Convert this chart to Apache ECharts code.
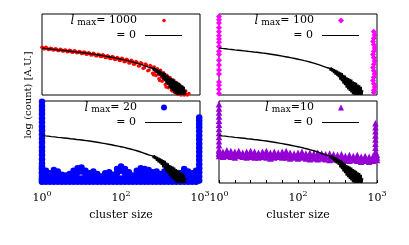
<!DOCTYPE html>
<html><head><meta charset="utf-8">
<script src="https://cdn.jsdelivr.net/npm/echarts@6/dist/echarts.min.js"></script>
<style>html,body{margin:0;padding:0;background:#fff}#c{width:409px;height:245px}</style>
</head><body><div id="c"></div>
<script>
// x positions are in axis units 0..10 (10^0 at 0, 10^2 at 5, 10^3 at 10); y is log(count) in arbitrary units 0..1
const xTickLabels = {0: ['10', '0'], 5: ['10', '2'], 10: ['10', '3']};
const lmaxValues = ['1000', '100', '20', '10'];
const lmaxSeps = ['= ', '= ', '= ', '='];

// l_max = 0 (black line), same reference curve in all panels
const blackX = [0,0.2,0.4,0.6,0.8,1,1.2,1.4,1.6,1.8,2,2.2,2.4,2.6,2.8,3,3.2,3.4,3.6,3.8,4,4.2,4.4,4.6,4.8,5,5.2,5.4,5.6,5.8,6,6.2,6.4,6.6,6.8,
  7.0,7.05,7.1,7.15,7.2,7.25,7.3,7.35,7.4,7.45,7.5,7.55,7.6,7.65,7.7,7.75,7.8,7.85,7.9,7.95,8.0,8.05,8.1,8.15,8.2,8.25,8.3,8.35,8.4,8.45,8.5,8.55,8.6,8.65,8.7,8.75,8.8,8.85,8.9,8.95,9.0,9.05,9.1];
const blackY = [0.58,0.575,0.571,0.566,0.562,0.557,0.553,0.549,0.545,0.54,0.536,0.531,0.527,0.522,0.517,0.512,0.506,0.5,0.494,0.487,0.48,0.473,0.466,0.458,0.45,0.442,0.434,0.424,0.415,0.404,0.393,0.381,0.368,0.354,0.34,
  0.33,0.3,0.34,0.29,0.33,0.27,0.32,0.25,0.31,0.24,0.3,0.22,0.29,0.19,0.28,0.17,0.27,0.14,0.25,0.12,0.24,0.09,0.22,0.07,0.21,0.05,0.2,0.03,0.19,0.01,0.17,0,0.16,0,0.15,0,0.13,0,0.12,0,0.1,0,0.06];

// l_max = 1000 (red)
const redX = [0,0.1,0.25,0.4,0.55,0.7,0.85,1.0,1.15,1.3,1.45,1.6,1.75,1.9,2.05,2.2,2.35,2.5,2.65,2.8,2.95,3.1,3.25,3.4,3.55,3.7,3.85,4.0,4.15,4.3,4.45,4.6,4.75,4.9,5.05,5.2,5.35,5.5,5.65,5.8,5.95,6.1,6.25,6.4,6.55,6.7,6.85,7.0,7.1,7.2,7.3,7.4,7.5,7.6,7.7,7.8,7.9,8.0,8.1,8.2,8.3,8.4,8.5,8.6,8.7,8.8,8.9,9.0,9.1,9.2,9.3,7.05,7.45,7.85,8.25,8.65,9.05,
  0.05,0.18,0.32,0.48,0.62,0.78,0.92,1.08,1.22,1.38,1.52,1.68,1.82,1.98,2.12,2.28,2.42,2.58,2.72,2.88,3.02,3.18,3.32,3.48,3.62,3.78,3.92,4.08,4.22,4.38,4.52,4.68,4.82,4.98,5.12,5.28,5.42,5.58,5.72,5.88,6.02,6.18,6.32,6.48,6.62,6.78,6.92,7.15,7.35,7.55,7.75,7.95,8.15,8.35,8.55,8.75,8.95,9.15];
const redY = [0.59,0.572,0.588,0.562,0.578,0.556,0.572,0.548,0.566,0.542,0.557,0.535,0.552,0.527,0.546,0.521,0.537,0.511,0.531,0.503,0.522,0.494,0.514,0.485,0.504,0.475,0.497,0.462,0.484,0.452,0.474,0.438,0.464,0.425,0.454,0.412,0.442,0.396,0.428,0.38,0.413,0.358,0.398,0.33,0.384,0.3,0.364,0.27,0.345,0.24,0.325,0.2,0.305,0.17,0.275,0.13,0.245,0.09,0.215,0.06,0.185,0.03,0.155,0.01,0.125,0.0,0.09,0.0,0.05,0.0,0.02,0.25,0.18,0.1,0.05,0.03,0.02,
  0.582,0.57,0.578,0.566,0.572,0.558,0.566,0.55,0.559,0.544,0.552,0.538,0.546,0.53,0.54,0.524,0.532,0.515,0.524,0.506,0.516,0.496,0.507,0.486,0.497,0.476,0.488,0.463,0.476,0.452,0.465,0.44,0.455,0.428,0.444,0.414,0.432,0.398,0.418,0.382,0.402,0.362,0.39,0.335,0.37,0.31,0.35,0.28,0.25,0.22,0.19,0.16,0.13,0.1,0.07,0.05,0.03,0.01];

// l_max = 100 (magenta): columns at both ends
const magentaLeftX = [0,0,0,0,0,0,0,0,0,0,0,0,0,0,0,0,0,0,0];
const magentaLeftY = [0.97,0.93,0.89,0.83,0.78,0.73,0.69,0.65,0.6,0.54,0.5,0.43,0.37,0.31,0.26,0.16,0.12,0.07,0.02];
const magentaRightX = [9.8,9.85,9.8,9.75,9.8,9.85,9.8,9.75,9.8,9.85,9.8,9.75,9.8,9.85,9.8,9.75,9.8,9.85,9.8,9.8];
const magentaRightY = [0.78,0.74,0.7,0.66,0.62,0.58,0.54,0.5,0.46,0.42,0.38,0.34,0.3,0.26,0.22,0.18,0.14,0.1,0.06,0.03];

// l_max = 20 (blue)
const blueLeftX = [0,0,0,0,0,0,0,0,0,0,0,0,0,0,0,0,0,0,0,0,0,0];
const blueLeftY = [0.99,0.94,0.89,0.84,0.79,0.74,0.69,0.64,0.59,0.54,0.49,0.44,0.39,0.34,0.29,0.24,0.2,0.16,0.12,0.08,0.05,0.02];
const blueRightX = [9.95,9.95,9.95,9.95,9.95,9.95,9.95,9.95,9.95,9.95,9.95,9.95,9.95,9.95,9.95,9.95,9.95];
const blueRightY = [0.8,0.76,0.72,0.68,0.63,0.58,0.53,0.48,0.43,0.38,0.33,0.28,0.23,0.18,0.13,0.08,0.03];
const blueBandX = [0,0.25,0.5,0.75,1,1.25,1.5,1.75,2,2.25,2.5,2.75,3,3.25,3.5,3.75,4,4.25,4.5,4.75,5,5.25,5.5,5.75,6,6.25,6.5,6.75,7,7.25,7.5,7.75,8,8.25,8.5,8.75,9,9.25,9.5,9.75];
const blueBandLow = [0.015,0.015,0.015,0.015,0.015,0.015,0.015,0.015,0.015,0.015,0.015,0.015,0.015,0.015,0.015,0.015,0.015,0.015,0.015,0.015,0.015,0.015,0.015,0.015,0.015,0.015,0.015,0.015,0.015,0.015,0.015,0.015,0.015,0.015,0.015,0.015,0.015,0.015,0.015,0.015];
const blueBandRow1 = [0.05,0.055,0.045,0.06,0.05,0.045,0.05,0.055,0.05,0.06,0.055,0.05,0.045,0.055,0.05,0.04,0.05,0.055,0.045,0.06,0.055,0.06,0.05,0.045,0.055,0.06,0.05,0.055,0.05,0.055,0.045,0.05,0.06,0.05,0.045,0.05,0.06,0.055,0.05,0.055];
const blueBandMid = [0.13,0.1,0.08,0.11,0.1,0.07,0.07,0.08,0.1,0.13,0.14,0.11,0.08,0.1,0.08,0.06,0.08,0.09,0.07,0.12,0.15,0.12,0.09,0.07,0.1,0.13,0.12,0.11,0.09,0.1,0.08,0.1,0.12,0.08,0.07,0.08,0.12,0.1,0.08,0.1];
const blueBandTop = [0.18,0.15,0.12,0.16,0.14,0.1,0.09,0.11,0.15,0.18,0.19,0.15,0.12,0.14,0.11,0.08,0.12,0.13,0.1,0.17,0.2,0.17,0.13,0.09,0.15,0.18,0.17,0.16,0.13,0.14,0.11,0.14,0.17,0.12,0.09,0.12,0.17,0.14,0.12,0.15];

// l_max = 10 (purple)
const purpleLeftX = [0,0,0,0,0,0,0,0,0,0,0,0,0];
const purpleLeftY = [0.96,0.91,0.86,0.81,0.76,0.71,0.66,0.61,0.56,0.51,0.46,0.41,0.36];
const purpleRightX = [9.9,9.9,9.9,9.9,9.9,9.9,9.9,9.9,9.9,9.9];
const purpleRightY = [0.73,0.68,0.63,0.58,0.53,0.48,0.43,0.38,0.33,0.29];
const purpleBandX = [0,0.25,0.5,0.75,1,1.25,1.5,1.75,2,2.25,2.5,2.75,3,3.25,3.5,3.75,4,4.25,4.5,4.75,5,5.25,5.5,5.75,6,6.25,6.5,6.75,7,7.25,7.5,7.75,8,8.25,8.5,8.75,9,9.25,9.5,9.75,10];
const purpleBandUpper = [0.39,0.38,0.4,0.39,0.38,0.39,0.37,0.38,0.39,0.38,0.37,0.38,0.39,0.37,0.38,0.37,0.38,0.39,0.37,0.36,0.37,0.38,0.36,0.37,0.36,0.37,0.36,0.35,0.36,0.35,0.34,0.35,0.33,0.34,0.33,0.34,0.32,0.33,0.32,0.33,0.34];
const purpleBandMiddle = [0.36,0.35,0.365,0.355,0.345,0.36,0.345,0.345,0.355,0.345,0.34,0.35,0.35,0.335,0.345,0.345,0.345,0.35,0.335,0.335,0.335,0.345,0.33,0.33,0.33,0.33,0.33,0.32,0.32,0.32,0.31,0.31,0.305,0.305,0.305,0.305,0.29,0.3,0.29,0.3,0.31];
const purpleBandLower = [0.33,0.32,0.33,0.32,0.31,0.33,0.32,0.31,0.32,0.31,0.31,0.32,0.31,0.3,0.31,0.32,0.31,0.31,0.3,0.31,0.3,0.31,0.3,0.29,0.3,0.29,0.3,0.29,0.28,0.29,0.28,0.27,0.28,0.27,0.28,0.27,0.26,0.27,0.26,0.27,0.28];

const FONT = 'DejaVu Serif';
const zip = (xs, ys) => xs.map((x, i) => [x, ys[i]]);
const blackData = zip(blackX, blackY);

const grids = [
  {left: 42, top: 14, width: 158, height: 81},
  {left: 219, top: 14, width: 158, height: 81},
  {left: 42, top: 101, width: 158, height: 82},
  {left: 219, top: 101, width: 158, height: 82}
].map(g => Object.assign(g, {show: true, borderColor: '#000', borderWidth: 1, backgroundColor: 'transparent'}));

const xAxes = [0,1,2,3].map(i => ({
  type: 'value', gridIndex: i, min: 0, max: 10, interval: 1,
  axisLine: {show: false}, splitLine: {show: false},
  axisTick: {show: i >= 2, inside: true, length: 3, lineStyle: {color: '#000', width: 1}},
  axisLabel: {
    show: i >= 2, margin: 7, color: '#000',
    formatter: v => xTickLabels[v] ? '{b|' + xTickLabels[v][0] + '}{s|' + xTickLabels[v][1] + '}' : '',
    rich: {b: {fontFamily: FONT, fontSize: 11, color: '#000'}, s: {fontFamily: FONT, fontSize: 8, color: '#000', padding: [0, 0, 8, 0]}}
  },
  name: i >= 2 ? 'cluster size' : '', nameLocation: 'middle', nameGap: 27,
  nameTextStyle: {fontFamily: FONT, fontSize: 11, color: '#000'}
}));
const yAxes = [0,1,2,3].map(i => ({type: 'value', gridIndex: i, min: 0, max: 1, show: false}));

const names = ['lmax1000', 'lmax100', 'lmax20', 'lmax10'];
const zeroNames = ['zero0', 'zero1', 'zero2', 'zero3'];
const fmt = name => {
  const k = names.indexOf(name);
  if (k >= 0) return '{i|l}{m|max}{n|' + lmaxSeps[k] + lmaxValues[k] + '}';
  return '{n|= 0}';
};
const makeRich = padRight => ({
  i: {fontFamily: FONT, fontStyle: 'italic', fontSize: 12, lineHeight: 14, color: '#000', padding: [0, 3, 0, 0]},
  m: {fontFamily: FONT, fontSize: 9, lineHeight: 14, color: '#000', padding: [5, 0, 0, 0]},
  n: {fontFamily: FONT, fontSize: 11, lineHeight: 14, color: '#000', padding: [0, padRight, 0, 0]}
});
// symbol-entry legends (first line) and line-entry legends (second line) per panel
const panelRight = [200, 377, 200, 377];
const panelTop = [14, 14, 101, 101];
const symSize = [3.5, 6, 6, 6];
const legends = [];
[0,1,2,3].forEach(i => {
  legends.push({
    data: [names[i]], orient: 'vertical', align: 'right',
    right: 409 - (panelRight[i] - 36 + symSize[i] / 2), top: panelTop[i] - 0.5,
    padding: 0, itemWidth: symSize[i], itemHeight: symSize[i], selectedMode: false,
    formatter: fmt, textStyle: {fontFamily: FONT, fontSize: 11, color: '#000', rich: makeRich(22 - symSize[i] / 2)}
  });
  legends.push({
    data: [{name: zeroNames[i], icon: 'rect'}], orient: 'vertical', align: 'right',
    right: 409 - (panelRight[i] - 18), top: panelTop[i] + 16,
    padding: 0, itemWidth: 37, itemHeight: 1, selectedMode: false,
    formatter: fmt, textStyle: {fontFamily: FONT, fontSize: 11, color: '#000', rich: makeRich(4)}
  });
});

const scat = (name, gi, data, symbol, size, color) => ({
  type: 'scatter', name: name, xAxisIndex: gi, yAxisIndex: gi, data: data, symbol: symbol,
  symbolSize: size, itemStyle: {color: color, opacity: 1}, clip: false, silent: true, z: 2
});
const blackLine = gi => ({
  type: 'line', name: zeroNames[gi], xAxisIndex: gi, yAxisIndex: gi, data: blackData, symbol: 'none',
  lineStyle: {color: '#000', width: 1.4}, itemStyle: {color: '#000'}, clip: false, silent: true, z: 3
});

const blueBand = [].concat(zip(blueBandX, blueBandLow), zip(blueBandX, blueBandRow1), zip(blueBandX, blueBandMid), zip(blueBandX, blueBandTop));
const purpleBand = [].concat(zip(purpleBandX, purpleBandUpper), zip(purpleBandX, purpleBandMiddle), zip(purpleBandX, purpleBandLower));

const series = [
  scat('lmax1000', 0, zip(redX, redY), 'circle', 3.5, '#ff0000'),
  blackLine(0),
  scat('lmax100', 1, [].concat(zip(magentaLeftX, magentaLeftY), zip(magentaRightX, magentaRightY)), 'diamond', 6, '#ff00ff'),
  blackLine(1),
  scat('lmax20', 2, [].concat(zip(blueLeftX, blueLeftY), zip(blueRightX, blueRightY), blueBand), 'circle', 6.5, '#0000ff'),
  blackLine(2),
  scat('lmax10', 3, [].concat(zip(purpleLeftX, purpleLeftY), zip(purpleRightX, purpleRightY), purpleBand), 'triangle', 6.5, '#9400d3'),
  blackLine(3)
];

const chart = echarts.init(document.getElementById('c'), null, {renderer: 'canvas'});
chart.setOption({
  animation: false,
  backgroundColor: '#fff',
  grid: grids, xAxis: xAxes, yAxis: yAxes, legend: legends, series: series,
  graphic: [{
    type: 'text', x: 28, y: 95, rotation: Math.PI / 2,
    style: {text: 'log (count) [A.U.]', fontFamily: FONT, fontSize: 10, fill: '#000', align: 'center', verticalAlign: 'middle'}
  }]
});
</script>
</body></html>
